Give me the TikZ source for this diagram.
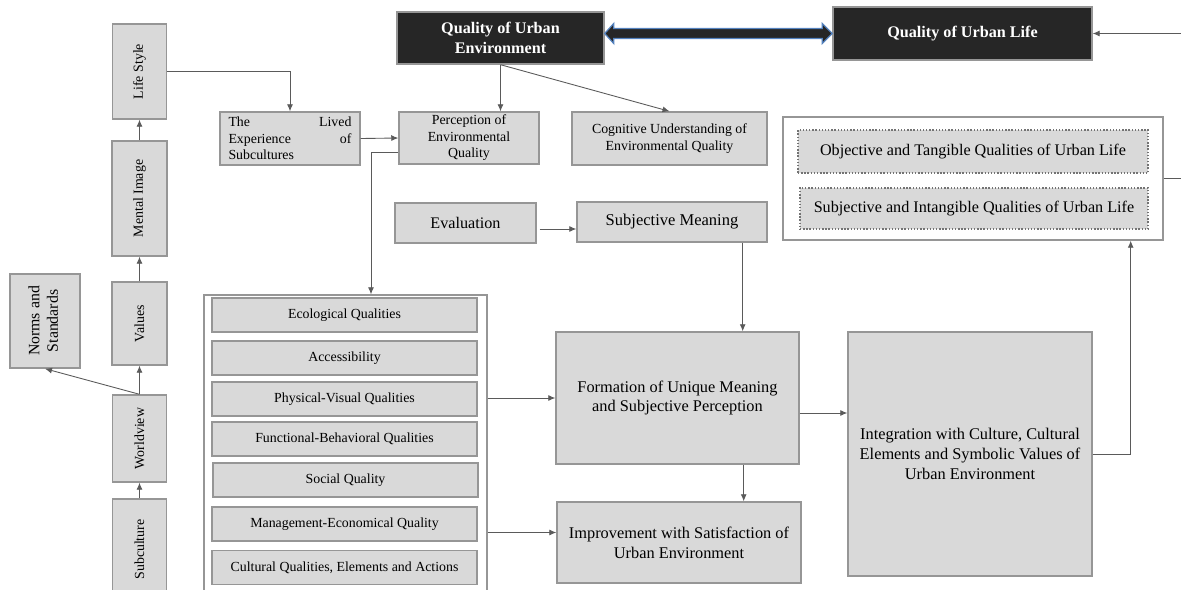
\documentclass[tikz,border=0pt]{standalone}
\usepackage{fontspec}
\setmainfont{Liberation Serif}
\usetikzlibrary{arrows.meta, calc}
\definecolor{boxgray}{RGB}{217,217,217}
\definecolor{edgegray}{RGB}{150,150,150}
\definecolor{linegray}{RGB}{90,90,90}
\definecolor{darkfill}{RGB}{38,38,38}
\definecolor{arrowblue}{RGB}{84,130,190}
\tikzset{
    wh/.style 2 args={minimum width=#1*0.02cm, minimum height=#2*0.02cm},
    box/.style={draw=edgegray, fill=boxgray, line width=0.8pt, inner sep=1pt, align=center, font=\fontsize{7.9}{9.4}\selectfont},
    bigbox/.style={box, font=\fontsize{9.3}{11.2}\selectfont},
    darkbox/.style={draw=edgegray, fill=darkfill, line width=0.8pt, text=white, align=center, font=\fontsize{9.2}{11}\selectfont\bfseries},
    frame/.style={draw=edgegray, fill=white, line width=0.8pt},
    dotbox/.style={box, draw=black!55, densely dotted, line width=1.4pt, font=\fontsize{9.2}{11}\selectfont},
    conn/.style={->, draw=linegray, line width=0.5pt},
    link/.style={draw=linegray, line width=0.5pt},
    dblarrow/.style={draw=arrowblue, fill=darkfill, line width=0.7pt}
}

\begin{document}
\begin{tikzpicture}[x=0.02cm, y=-0.02cm, >={Latex[length=4pt,width=3.4pt]}]
        \useasboundingbox (0,0) rectangle (1181,589);

        % Subculture chain
        \node[box, wh={54}{95}] (lifestyle) at (139.5,71.5) {\rotatebox{90}{Life Style}};
        \node[box, wh={55}{115}] (mental) at (139.5,198.5) {\rotatebox{90}{Mental Image}};
        \node[box, wh={55}{83}] (values) at (139.5,323.5) {\rotatebox{90}{Values}};
        \node[box, wh={54}{87}] (worldview) at (139.5,438.5) {\rotatebox{90}{Worldview}};
        \node[box, wh={54}{101}] (subculture) at (139.5,549.5) {\rotatebox{90}{Subculture}};
        \node[box, wh={70}{94}, font=\fontsize{9}{10.5}\selectfont] (norms) at (45,321) {\rotatebox{90}{\begin{tabular}{@{}c@{}}Norms and\\Standards\end{tabular}}};

        % Perception row
        \node[box, wh={140}{53}, text width=2.46cm, align=left] (lived) at (290,138.5) {The\hfill Lived\\Experience\hfill of\\Subcultures};
        \node[box, wh={140}{52}] (perception) at (469,138) {Perception of\\Environmental\\Quality};
        \node[box, wh={195}{53}] (cognitive) at (669.5,138.5) {Cognitive Understanding of\\Environmental Quality};

        % Urban environment and urban life
        \node[darkbox, wh={207}{52}] (que) at (500.5,38) {Quality of Urban\\Environment};
        \node[darkbox, wh={259}{53}] (qul) at (962.5,33.5) {Quality of Urban Life};
        \node[frame, wh={380}{123}] (qulframe) at (973,178.5) {};
        \node[dotbox, wh={350}{43}] (objective) at (973,151.5) {Objective and Tangible Qualities of Urban Life};
        \node[dotbox, wh={348}{41}] (subjective) at (974,208.5) {Subjective and Intangible Qualities of Urban Life};

        % Meaning
        \node[box, wh={141}{40}, font=\fontsize{9.2}{11}\selectfont] (evaluation) at (465.5,223) {Evaluation};
        \node[box, wh={190}{40}, font=\fontsize{9.4}{11}\selectfont] (meaning) at (672,222) {Subjective Meaning};
        \node[bigbox, wh={243}{132}] (formation) at (677.5,398) {Formation of Unique Meaning\\and Subjective Perception};
        \node[bigbox, wh={244}{81}] (improvement) at (679,542.5) {Improvement with Satisfaction of\\Urban Environment};
        \node[bigbox, wh={244}{244}] (integration) at (970,454) {Integration with Culture, Cultural\\Elements and Symbolic Values of\\Urban Environment};

        % Qualities
        \node[frame, wh={283}{305}] (qlist) at (345.5,447.5) {};
        \node[box, wh={265}{34}] (ecological) at (344.5,315) {Ecological Qualities};
        \node[box, wh={265}{34}] (access) at (344.5,358) {Accessibility};
        \node[box, wh={265}{34}] (physical) at (344.5,399) {Physical-Visual Qualities};
        \node[box, wh={265}{34}] (functional) at (344.5,439) {Functional-Behavioral Qualities};
        \node[box, wh={265}{34}] (social) at (345.5,480) {Social Quality};
        \node[box, wh={265}{34}] (management) at (344.5,524) {Management-Economical Quality};
        \node[box, wh={265}{34}] (cultural) at (344.5,567.5) {Cultural Qualities, Elements and Actions};

        % Connectors
        \draw[conn] (subculture) -- (worldview);
        \draw[conn] (worldview) -- (values);
        \draw[conn] (values) -- (mental);
        \draw[conn] (mental) -- (lifestyle);
        \draw[conn] (worldview.north) -- (norms.south);
        \draw[conn] (lifestyle.east) -| (lived.north);
        \draw[conn] (lived.east) -- (perception.west);
        \draw[conn] ($(perception.south west)+(0,-12)$) -| ($(qlist.north)+(25.5,0)$);
        \draw[conn] (que.south) -- (que.south |- perception.north);
        \draw[conn] (que.south) -- (cognitive.north);
        \filldraw[dblarrow] (que.east |- qul.west) -- ++(9,-10) -- ++(0,5) -- ($(qul.west)+(-10,-5)$) -- ++(0,-5) -- (qul.west)
            -- ++(-10,10) -- ++(0,-5) -- ($(que.east |- qul.west)+(9,5)$) -- ++(0,5) -- cycle;
        \coordinate (edgetop) at (1181,33.5);
        \coordinate (edgemid) at (1181,178.5);
        \draw[conn] (edgetop) -- (qul.east);
        \draw[link] (qulframe.east) -- (edgemid);
        \draw[conn] ($(evaluation.east)+(3,6)$) -- ($(meaning.west)+(0,7)$);
        \draw[conn] ($(meaning.south east)+(-25,0)$) coordinate (m) -- (m |- formation.north);
        \draw[conn] (qlist.east |- formation.west) -- (formation.west);
        \draw[conn] ($(qlist.east |- improvement.west)+(0,-10)$) -- ($(improvement.west)+(0,-10)$);
        \draw[conn] ($(formation.south east)+(-56,0)$) coordinate (f) -- (f |- improvement.north);
        \draw[conn] ($(formation.east)+(0,15)$) coordinate (g) -- (g -| integration.west);
        \draw[conn] (integration.east) -| ($(qulframe.south east)+(-33,0)$);
    \end{tikzpicture}
\end{document}
